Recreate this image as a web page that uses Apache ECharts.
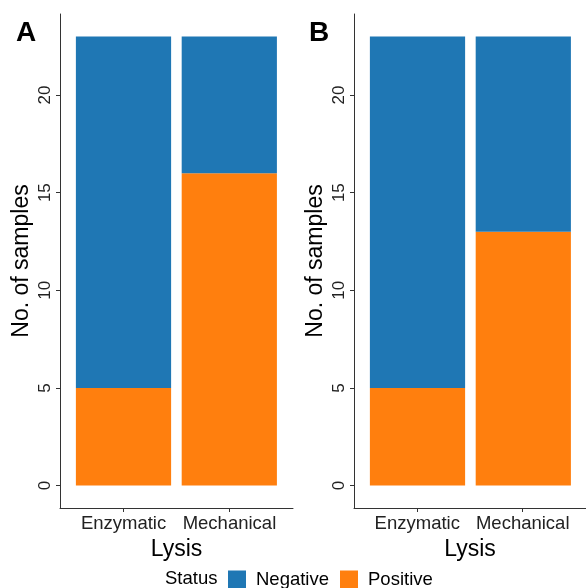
<!DOCTYPE html>
<html lang="en" style="height: 100%">
<head>
    <meta charset="UTF-8">
    <title>Lysis status</title>
    <script src="https://cdn.jsdelivr.net/npm/echarts@6/dist/echarts.min.js"></script>
</head>
<body style="height: 100%; margin: 0">
<div id="main" style="width: 586px; height: 588px"></div>
<script>
    var categories = ['Enzymatic', 'Mechanical'];
    var yTicks = [0, 5, 10, 15, 20];
    // panel A
    var negA = [18, 7];
    var posA = [5, 16];
    // panel B
    var negB = [18, 10];
    var posB = [5, 13];

    var font = 'Liberation Sans, Arial, sans-serif';
    var axisColor = '#333';
    var yMin = -1.15, yMax = 24.15;   // ggplot-style 5% expansion around 0..23

    // axes that are only drawn (lines, ticks, labels); x is a value axis so
    // the line can run past the category bands like in ggplot
    function xShow(idx) {
        return {
            type: 'value', gridIndex: idx, min: 0.4, max: 2.6,
            name: 'Lysis', nameLocation: 'middle', nameGap: 26,
            nameTextStyle: {fontSize: 23, color: '#000', fontFamily: font},
            splitLine: {show: false},
            axisLine: {onZero: false, lineStyle: {color: axisColor, width: 1}},
            axisTick: {customValues: [1, 2], length: 4, lineStyle: {color: axisColor}},
            axisLabel: {
                customValues: [1, 2], fontSize: 18.5, color: '#222', fontFamily: font, margin: 6,
                formatter: function (v) { return categories[Math.round(v) - 1]; }
            }
        };
    }

    function yShow(idx) {
        return {
            type: 'value', gridIndex: idx, min: yMin, max: yMax,
            name: 'No. of samples', nameLocation: 'middle', nameGap: 27, nameRotate: 90,
            nameTextStyle: {fontSize: 23, color: '#000', fontFamily: font},
            splitLine: {show: false},
            axisLine: {show: true, lineStyle: {color: axisColor, width: 1}},
            axisTick: {show: true, customValues: yTicks, length: 4, lineStyle: {color: axisColor}},
            axisLabel: {customValues: yTicks, rotate: 90, fontSize: 17, color: '#222', fontFamily: font, margin: 6}
        };
    }

    // hidden axes the bars are stacked on
    function xData(idx) {
        return {type: 'category', gridIndex: idx, data: categories, show: false};
    }
    function yData(idx) {
        return {type: 'value', gridIndex: idx, min: yMin, max: yMax, show: false, splitLine: {show: false}};
    }

    function bars(name, vals, idx, color) {
        return {
            name: name, type: 'bar', stack: 'p' + idx,
            xAxisIndex: idx, yAxisIndex: idx,
            barWidth: '90%',
            itemStyle: {color: color},
            data: vals
        };
    }

    var blue = '#1F77B4';
    var orange = '#FF7F0E';

    var option = {
        backgroundColor: '#fff',
        animation: false,
        title: [
            {text: 'A', left: 11, top: 14, textStyle: {fontSize: 28, fontWeight: 'bold', color: '#000', fontFamily: font}},
            {text: 'B', left: 304, top: 14, textStyle: {fontSize: 28, fontWeight: 'bold', color: '#000', fontFamily: font}},
            {text: 'Status', left: 160, top: 564, textStyle: {fontSize: 18.5, fontWeight: 'normal', color: '#000', fontFamily: font}}
        ],
        legend: {
            data: ['Negative', 'Positive'],
            left: 223, top: 565,
            icon: 'rect', itemWidth: 18, itemHeight: 18, itemGap: 11,
            textStyle: {fontSize: 18.5, color: '#000', fontFamily: font, padding: [0, 0, 0, 5]}
        },
        grid: [
            {left: 60, top: 14, width: 233, height: 494},
            {left: 354, top: 14, width: 233, height: 494},
            {left: 70.6, top: 14, width: 211.6, height: 494},
            {left: 364.6, top: 14, width: 211.6, height: 494}
        ],
        xAxis: [xShow(0), xShow(1), xData(2), xData(3)],
        yAxis: [yShow(0), yShow(1), yData(2), yData(3)],
        series: [
            bars('Positive', posA, 2, orange),
            bars('Negative', negA, 2, blue),
            bars('Positive', posB, 3, orange),
            bars('Negative', negB, 3, blue)
        ]
    };

    var myChart = echarts.init(document.getElementById('main'));
    myChart.setOption(option);
</script>
</body>
</html>
